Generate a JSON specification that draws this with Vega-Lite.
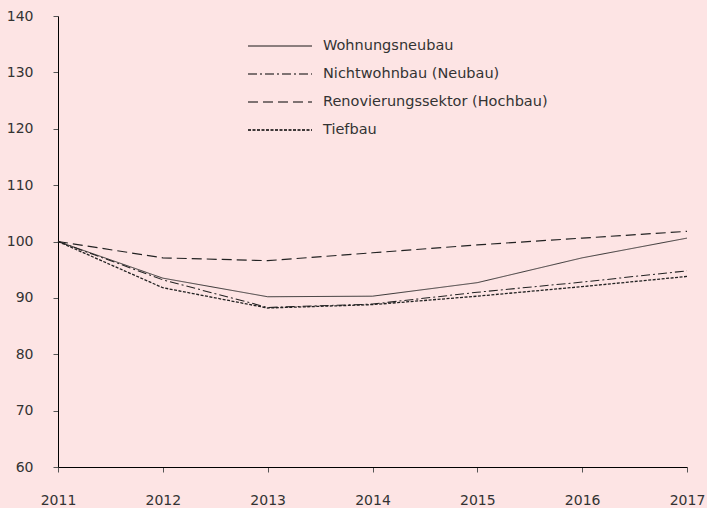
{
  "$schema": "https://vega.github.io/schema/vega-lite/v6.json",
  "width": 629,
  "height": 451,
  "padding": {"left": 58, "top": 16, "right": 20, "bottom": 41},
  "autosize": {"type": "none"},
  "background": "#fde4e4",
  "config": {
    "view": {"stroke": null},
    "font": "DejaVu Sans",
    "axis": {"labelFont": "DejaVu Sans", "labelFontSize": 14, "labelColor": "#333333", "domainColor": "#000000", "tickColor": "#555555", "grid": false, "title": null}
  },
  "data": {
    "values": [
      {"year": 2011, "series": "Wohnungsneubau", "value": 100},
      {"year": 2012, "series": "Wohnungsneubau", "value": 93.5},
      {"year": 2013, "series": "Wohnungsneubau", "value": 90.2},
      {"year": 2014, "series": "Wohnungsneubau", "value": 90.3},
      {"year": 2015, "series": "Wohnungsneubau", "value": 92.7},
      {"year": 2016, "series": "Wohnungsneubau", "value": 97.1},
      {"year": 2017, "series": "Wohnungsneubau", "value": 100.6},
      {"year": 2011, "series": "Nichtwohnbau (Neubau)", "value": 100},
      {"year": 2012, "series": "Nichtwohnbau (Neubau)", "value": 93.2},
      {"year": 2013, "series": "Nichtwohnbau (Neubau)", "value": 88.3},
      {"year": 2014, "series": "Nichtwohnbau (Neubau)", "value": 88.9},
      {"year": 2015, "series": "Nichtwohnbau (Neubau)", "value": 91.0},
      {"year": 2016, "series": "Nichtwohnbau (Neubau)", "value": 92.8},
      {"year": 2017, "series": "Nichtwohnbau (Neubau)", "value": 94.8},
      {"year": 2011, "series": "Renovierungssektor (Hochbau)", "value": 100},
      {"year": 2012, "series": "Renovierungssektor (Hochbau)", "value": 97.1},
      {"year": 2013, "series": "Renovierungssektor (Hochbau)", "value": 96.6},
      {"year": 2014, "series": "Renovierungssektor (Hochbau)", "value": 98.0},
      {"year": 2015, "series": "Renovierungssektor (Hochbau)", "value": 99.4},
      {"year": 2016, "series": "Renovierungssektor (Hochbau)", "value": 100.6},
      {"year": 2017, "series": "Renovierungssektor (Hochbau)", "value": 101.8},
      {"year": 2011, "series": "Tiefbau", "value": 100},
      {"year": 2012, "series": "Tiefbau", "value": 91.8},
      {"year": 2013, "series": "Tiefbau", "value": 88.2},
      {"year": 2014, "series": "Tiefbau", "value": 88.8},
      {"year": 2015, "series": "Tiefbau", "value": 90.3},
      {"year": 2016, "series": "Tiefbau", "value": 92.0},
      {"year": 2017, "series": "Tiefbau", "value": 93.8}
    ]
  },
  "mark": {"type": "line", "color": "#222222"},
  "encoding": {
    "x": {
      "field": "year", "type": "quantitative",
      "scale": {"domain": [2011, 2017], "nice": false, "zero": false},
      "axis": {"values": [2011, 2012, 2013, 2014, 2015, 2016, 2017], "format": "d", "labelFlush": false, "labelPadding": 21, "tickSize": 5}
    },
    "y": {
      "field": "value", "type": "quantitative",
      "scale": {"domain": [60, 140], "nice": false, "zero": false},
      "axis": {"values": [60, 70, 80, 90, 100, 110, 120, 130, 140], "tickSize": 5, "labelPadding": 20}
    },
    "strokeDash": {
      "field": "series", "type": "nominal",
      "scale": {
        "domain": ["Wohnungsneubau", "Nichtwohnbau (Neubau)", "Renovierungssektor (Hochbau)", "Tiefbau"],
        "range": [[1, 0], [9, 3, 2, 3], [10, 5], [3, 1.5]]
      },
      "legend": {
        "title": null, "orient": "none", "legendX": 189, "legendY": 22,
        "symbolType": "stroke", "symbolSize": 4096, "symbolStrokeColor": "#000000", "symbolStrokeWidth": 1.2,
        "clipHeight": 16,
        "labelFont": "DejaVu Sans", "labelFontSize": 14.5, "labelColor": "#333333", "labelOffset": 10, "labelLimit": 400, "rowPadding": 12
      }
    },
    "strokeWidth": {
      "field": "series", "type": "nominal",
      "scale": {
        "domain": ["Wohnungsneubau", "Nichtwohnbau (Neubau)", "Renovierungssektor (Hochbau)", "Tiefbau"],
        "range": [0.9, 1.3, 1.4, 1.2]
      },
      "legend": null
    }
  }
}
